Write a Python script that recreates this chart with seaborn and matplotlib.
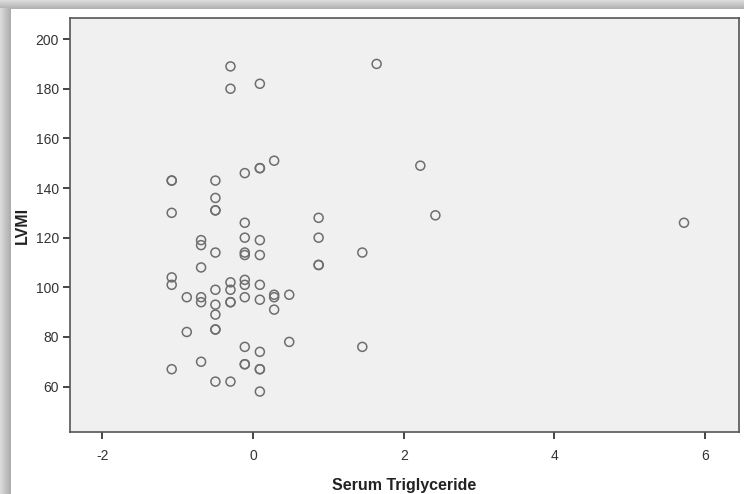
import numpy as np
import pandas as pd
import matplotlib
matplotlib.use("Agg")
import matplotlib.pyplot as plt
import seaborn as sns

# Standardised serum triglyceride (x) and left-ventricular mass index (y)
triglyceride = [
    -1.08, -1.08, -1.08, -1.08, -1.08, -1.08,
    -0.88, -0.88,
    -0.69, -0.69, -0.69, -0.69, -0.69, -0.69,
    -0.50, -0.50, -0.50, -0.50, -0.50, -0.50, -0.50, -0.50, -0.50, -0.50, -0.50,
    -0.30, -0.30, -0.30, -0.30, -0.30, -0.30, -0.30,
    -0.11, -0.11, -0.11, -0.11, -0.11, -0.11, -0.11, -0.11, -0.11, -0.11, -0.11,
    0.09, 0.09, 0.09, 0.09, 0.09, 0.09, 0.09, 0.09, 0.09, 0.09, 0.09,
    0.28, 0.28, 0.28, 0.28,
    0.48, 0.48,
    0.87, 0.87, 0.87, 0.87,
    1.45, 1.45,
    1.64,
    2.22,
    2.42,
    5.72,
]
lvmi = [
    143, 143, 130, 104, 101, 67,
    96, 82,
    119, 117, 108, 96, 94, 70,
    143, 136, 131, 131, 114, 99, 93, 89, 83, 83, 62,
    189, 180, 102, 99, 94, 94, 62,
    146, 126, 120, 114, 113, 103, 101, 96, 76, 69, 69,
    182, 148, 148, 119, 113, 101, 95, 74, 67, 67, 58,
    151, 97, 96, 91,
    97, 78,
    128, 120, 109, 109,
    114, 76,
    190,
    149,
    129,
    126,
]
x_ticks = [-2, 0, 2, 4, 6]
y_ticks = [60, 80, 100, 120, 140, 160, 180, 200]

df = pd.DataFrame({"Serum Triglyceride": triglyceride, "LVMI": lvmi})

sns.set_theme(style="white")
plt.rcParams["font.family"] = ["Liberation Sans", "DejaVu Sans"]

fig = plt.figure(figsize=(7.44, 4.94), dpi=100)
fig.patch.set_facecolor("white")

# soft drop-shadow frame along the top and left edges
W, H = 744, 494
bg = fig.add_axes([0, 0, 1, 1], zorder=-10)
bg.axis("off")
top_grad = np.linspace(0.86, 0.70, 9)[:, None] * np.ones((1, 2))
bg.imshow(np.dstack([top_grad] * 3), extent=[0, W, 9, 0], aspect="auto",
          interpolation="bilinear")
left_grad = np.linspace(0.86, 0.68, 11)[None, :] * np.ones((2, 1))
bg.imshow(np.dstack([left_grad] * 3), extent=[0, 11, H, 9], aspect="auto",
          interpolation="bilinear")
bg.set_xlim(0, W)
bg.set_ylim(H, 0)

ax = fig.add_axes([70 / W, 1 - 432 / H, (739 - 70) / W, (432 - 18) / H])
ax.set_facecolor("#f0f0f0")

sns.scatterplot(data=df, x="Serum Triglyceride", y="LVMI", ax=ax,
                marker="o", s=42, facecolors="none", edgecolor="#6e6e6e",
                linewidth=1.1)

ax.set_xlim(-2.43, 6.45)
ax.set_ylim(41.7, 208.5)
ax.set_xticks(x_ticks)
ax.set_yticks(y_ticks)
ax.set_xticklabels([str(v) for v in x_ticks])
ax.set_yticklabels([str(v) for v in y_ticks])

for side in ["top", "right", "bottom", "left"]:
    ax.spines[side].set_visible(True)
    ax.spines[side].set_color("#555555")
    ax.spines[side].set_linewidth(1.2)

ax.tick_params(axis="both", which="major", direction="out", length=5,
               width=1.4, color="#444444", labelsize=10, labelcolor="#333333",
               bottom=True, left=True, pad=3)
ax.tick_params(axis="x", pad=7)

ax.set_xlabel("Serum Triglyceride", fontsize=11.5, fontweight="bold",
              color="#222222", labelpad=11)
ax.set_ylabel("LVMI", fontsize=11.5, fontweight="bold", color="#222222",
              labelpad=4)

fig.savefig("out.png", dpi=100)
